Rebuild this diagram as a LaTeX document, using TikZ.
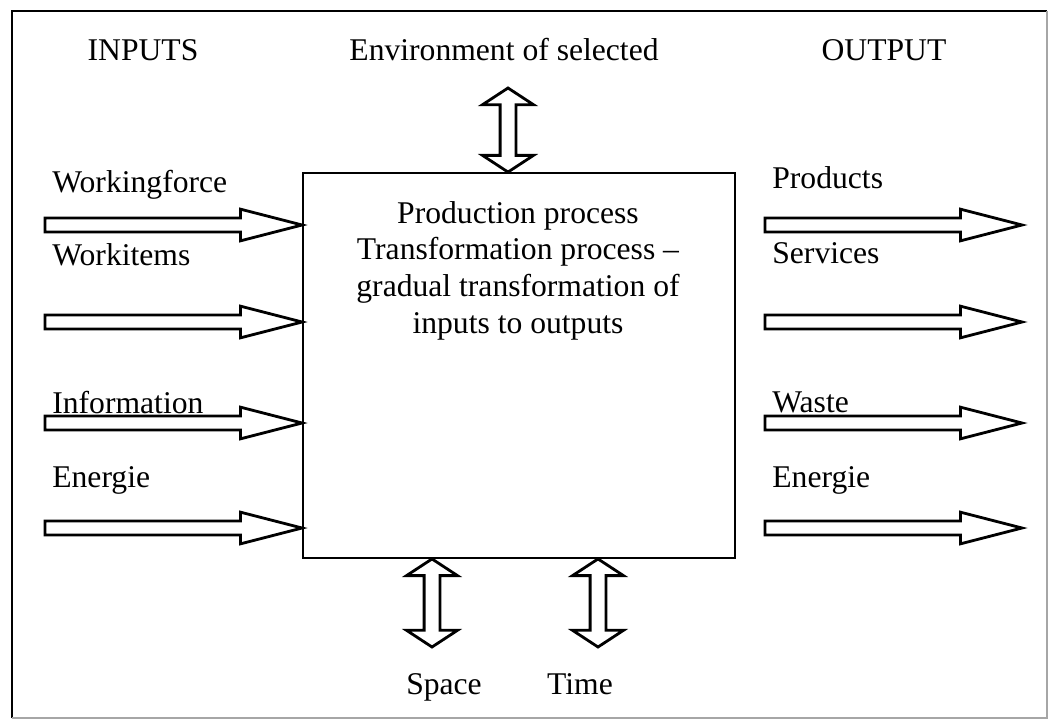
\documentclass[tikz,border=0pt]{standalone}
\usepackage{fontspec}
\setmainfont{Liberation Serif}
\usetikzlibrary{calc}

\tikzset{
  lbl/.style={inner sep=0pt, font=\fontsize{18}{20.8}\selectfont},
  hollow/.style={draw=black, line width=1.6pt, fill=white, line join=miter},
}

% block arrow pointing right, from tail #1 to tip #2
\newcommand{\rarrow}[2]{%
  \draw[hollow] let \p1=(#1), \p2=(#2) in
    (\x1,\y1+4pt) -- (\x2-35pt,\y1+4pt) -- (\x2-35pt,\y1+9pt) -- (\x2,\y1)
    -- (\x2-35pt,\y1-9pt) -- (\x2-35pt,\y1-4pt) -- (\x1,\y1-4pt) -- cycle;}
% double block arrow, from top end #1 to bottom end #2
\newcommand{\darrow}[2]{%
  \draw[hollow] let \p1=(#1), \p2=(#2) in
    (\x1,\y1) -- (\x1+14.5pt,\y1-9.5pt) -- (\x1+4.5pt,\y1-9.5pt)
    -- (\x1+4.5pt,\y2+9.5pt) -- (\x1+14.5pt,\y2+9.5pt) -- (\x2,\y2)
    -- (\x1-14.5pt,\y2+9.5pt) -- (\x1-4.5pt,\y2+9.5pt)
    -- (\x1-4.5pt,\y1-9.5pt) -- (\x1-14.5pt,\y1-9.5pt) -- cycle;}

\begin{document}
\begin{tikzpicture}[x=0.02cm, y=-0.02cm]
\useasboundingbox (0,0) rectangle (1050,720);
\draw[line width=1.7pt] (12,718) -- (12,11) -- (1047,11);
\draw[black!35, line width=1pt] (1047,11) -- (1047,718) -- (12,718);

\node (proc) [draw, line width=1.1pt, inner sep=0pt, minimum width=8.64cm, minimum height=7.7cm] at (519,365.5) {};
\node (desc) [lbl, align=center, anchor=base] at (518,333) {Production process\\Transformation process --\\gradual transformation of\\inputs to outputs};

\node (inputs) [lbl, anchor=base] at (143,60) {INPUTS};
\node (envlbl) [lbl, anchor=base] at (504,60) {Environment of selected};
\node (output) [lbl, anchor=base] at (884,60) {OUTPUT};

\coordinate (in1) at (45,225);
\coordinate (in2) at (45,322);
\coordinate (in3) at (45,423);
\coordinate (in4) at (45,528);
\rarrow{in1}{proc.west |- in1}
\rarrow{in2}{proc.west |- in2}
\rarrow{in3}{proc.west |- in3}
\rarrow{in4}{proc.west |- in4}
\node (force) [lbl, anchor=base west] at (52,192) {Workingforce};
\node (items) [lbl, anchor=base west] at (52,265) {Workitems};
\node (info) [lbl, anchor=base west] at (52,413) {Information};
\node (enin) [lbl, anchor=base west] at (52,487) {Energie};

\coordinate (out1) at (765,225);  \coordinate (end1) at (1022,225);
\coordinate (out2) at (765,322);  \coordinate (end2) at (1022,322);
\coordinate (out3) at (765,423);  \coordinate (end3) at (1022,423);
\coordinate (out4) at (765,528);  \coordinate (end4) at (1022,528);
\rarrow{out1}{end1}
\rarrow{out2}{end2}
\rarrow{out3}{end3}
\rarrow{out4}{end4}
\node (prod) [lbl, anchor=base west] at (772,188) {Products};
\node (serv) [lbl, anchor=base west] at (772,263) {Services};
\node (waste) [lbl, anchor=base west] at (772,412) {Waste};
\node (enout) [lbl, anchor=base west] at (772,487) {Energie};

\coordinate (env) at (508,88);
\darrow{env}{proc.north -| env}
\coordinate (sp) at (432,647);
\coordinate (tm) at (598,647);
\darrow{proc.south -| sp}{sp}
\darrow{proc.south -| tm}{tm}
\node (space) [lbl, anchor=base] at (444,694) {Space};
\node (time) [lbl, anchor=base] at (580,694) {Time};
\end{tikzpicture}
\end{document}
